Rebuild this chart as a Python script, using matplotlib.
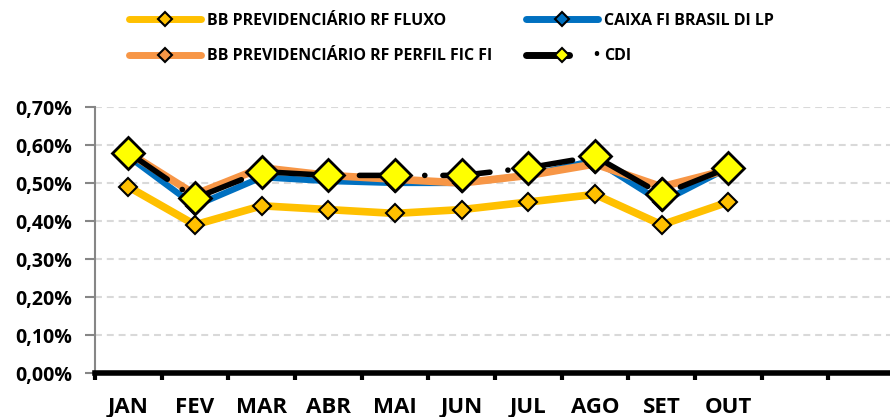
import matplotlib
matplotlib.use("Agg")
import matplotlib.pyplot as plt
from matplotlib.lines import Line2D
from matplotlib.ticker import FixedLocator, FuncFormatter

months = ["JAN", "FEV", "MAR", "ABR", "MAI", "JUN", "JUL", "AGO", "SET", "OUT", "", ""]
bb_fluxo = [0.49, 0.39, 0.44, 0.43, 0.42, 0.43, 0.45, 0.47, 0.39, 0.45]
caixa = [0.57, 0.44, 0.515, 0.505, 0.50, 0.50, 0.52, 0.56, 0.45, 0.54]
bb_perfil = [0.58, 0.47, 0.54, 0.52, 0.51, 0.50, 0.52, 0.55, 0.49, 0.535]
cdi = [0.58, 0.46, 0.53, 0.52, 0.52, 0.52, 0.54, 0.57, 0.47, 0.54]
yticks = [0.0, 0.1, 0.2, 0.3, 0.4, 0.5, 0.6, 0.7]

labels = ["BB PREVIDENCIÁRIO RF FLUXO", "CAIXA FI BRASIL DI LP",
          "BB PREVIDENCIÁRIO RF PERFIL FIC FI", "CDI"]

plt.rcParams["font.family"] = ["Open Sans", "DejaVu Sans"]
plt.rcParams["font.weight"] = "bold"
plt.rcParams["lines.scale_dashes"] = False

fig = plt.figure(figsize=(8.9, 4.17), dpi=100)
ax = fig.add_axes([95/890, (417-373)/417, 800/890, 266/417])

x = list(range(len(bb_fluxo)))

c_fluxo = "#FFC000"
c_caixa = "#0070C0"
c_perfil = "#F79646"

ax.plot(x, caixa, color=c_caixa, lw=4.5, marker="D", ms=9,
        mfc=c_caixa, mec="black", mew=1.5, zorder=3)
ax.plot(x, bb_perfil, color=c_perfil, lw=5.5, marker="D", ms=9,
        mfc=c_perfil, mec="black", mew=1.5, zorder=4)
ax.plot(x, bb_fluxo, color=c_fluxo, lw=5.5, marker="D", ms=9,
        mfc=c_fluxo, mec="black", mew=1.5, zorder=5)
ax.plot(x, cdi, color="black", lw=4, zorder=6,
        dashes=(34, 13, 0.1, 13), dash_capstyle="round")
ax.plot(x, cdi, ls="none", marker="D", ms=16, mfc="#FFFF00", mec="black",
        mew=2, zorder=7)

ax.set_xlim(-0.5, 11.5)
ax.set_ylim(0, 0.7)

# y axis
ax.set_yticks(yticks)
ax.yaxis.set_major_formatter(FuncFormatter(lambda v, p: f"{v:.2f}%".replace(".", ",")))
ax.tick_params(axis="y", length=7, width=1.5, color="#868686", labelsize=14, pad=9.5)
for lab in ax.get_yticklabels():
    lab.set_fontweight("bold")
ax.grid(axis="y", color="#D9D9D9", lw=1.5, ls=(0, (5, 3.5)))
ax.set_axisbelow(True)

# x axis
ax.xaxis.set_major_locator(FixedLocator([i - 0.5 for i in range(13)]))
ax.xaxis.set_major_formatter(FuncFormatter(lambda v, p: ""))
ax.xaxis.set_minor_locator(FixedLocator(list(range(12))))
ax.xaxis.set_minor_formatter(FuncFormatter(lambda v, p: months[int(round(v))] if 0 <= int(round(v)) < len(months) else ""))
ax.tick_params(axis="x", which="major", length=5, width=3, color="black", direction="out")
ax.tick_params(axis="x", which="minor", length=0, labelsize=16, pad=17)
for lab in ax.get_xticklabels(minor=True):
    lab.set_fontweight("bold")

for s in ["top", "right"]:
    ax.spines[s].set_visible(False)
ax.spines["left"].set_color("#868686")
ax.spines["left"].set_linewidth(1.5)
ax.spines["bottom"].set_color("black")
ax.spines["bottom"].set_linewidth(4)

# legend handles
lh_fluxo = Line2D([], [], color=c_fluxo, lw=5, marker="D", ms=7, mfc=c_fluxo,
                  mec="black", mew=1.5, solid_capstyle="round")
lh_caixa = Line2D([], [], color=c_caixa, lw=5, marker="D", ms=7, mfc=c_caixa,
                  mec="black", mew=1.5, solid_capstyle="round")
lh_perfil = Line2D([], [], color=c_perfil, lw=5, marker="D", ms=7, mfc=c_perfil,
                   mec="black", mew=1.5, solid_capstyle="round")
lh_cdi = Line2D([], [], color="black", lw=5, marker="D", ms=7, mfc="#FFFF00",
                mec="black", mew=1.5, dash_capstyle="round", dashes=(31, 60))

leg_kw = dict(frameon=False, prop={"weight": "bold", "size": 11.5},
              handlelength=4.5, handletextpad=0.4, labelspacing=1.2,
              borderpad=0, borderaxespad=0, loc="upper left")
leg1 = fig.legend([lh_fluxo, lh_perfil], [labels[0], labels[2]],
                  bbox_to_anchor=(129/890, 1 - 13/417), **leg_kw)
leg2 = fig.legend([lh_caixa, lh_cdi], [labels[1], labels[3]],
                  bbox_to_anchor=(526/890, 1 - 13/417), **leg_kw)
fig.text(596/890, 1 - 55/417, "•", ha="center", va="center",
         fontsize=11.5, fontweight="bold")

fig.savefig("out.png", dpi=100)
